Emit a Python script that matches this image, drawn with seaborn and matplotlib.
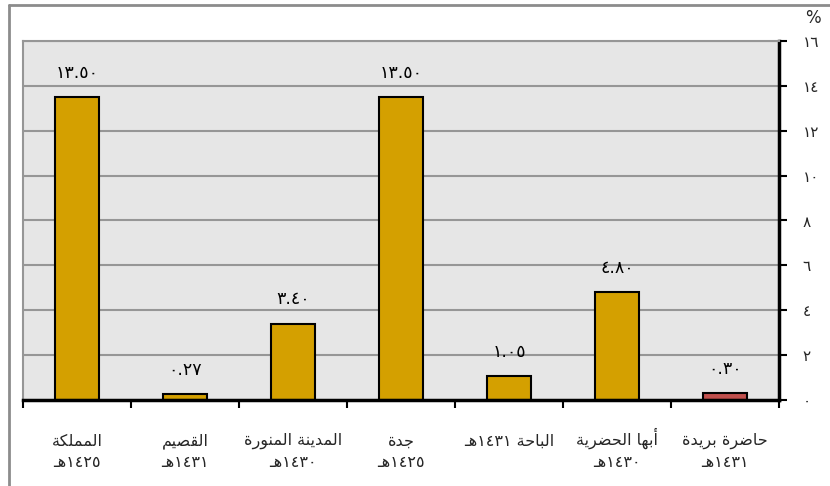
import matplotlib
matplotlib.use('Agg')
import matplotlib.pyplot as plt
import seaborn as sns
import pandas as pd
from matplotlib.lines import Line2D
from matplotlib.ticker import FixedLocator

sns.set_theme(style='white')
plt.rcParams['font.family'] = ['DejaVu Sans']

# Data
regions = ['المملكة\n١٤٢٥هـ', 'القصيم\n١٤٣١هـ', 'المدينة المنورة\n١٤٣٠هـ', 'جدة\n١٤٢٥هـ',
           'الباحة ١٤٣١هـ', 'أبها الحضرية\n١٤٣٠هـ', 'حاضرة بريدة\n١٤٣١هـ']
values = [13.50, 0.27, 3.40, 13.50, 1.05, 4.80, 0.30]
value_labels = ['١٣.٥٠', '٠.٢٧', '٣.٤٠', '١٣.٥٠', '١.٠٥', '٤.٨٠', '٠.٣٠']
bar_colors = ['#D4A000'] * 6 + ['#C0504D']
y_ticks = [0, 2, 4, 6, 8, 10, 12, 14, 16]
y_tick_labels = ['٠', '٢', '٤', '٦', '٨', '١٠', '١٢', '١٤', '١٦']

# matplotlib has no Arabic shaping, so pick presentation forms by hand
FORMS = {
    'ا': ('\uFE8D', '\uFE8E', None, None),
    'أ': ('\uFE83', '\uFE84', None, None),
    'ب': ('\uFE8F', '\uFE90', '\uFE91', '\uFE92'),
    'ة': ('\uFE93', '\uFE94', None, None),
    'ج': ('\uFE9D', '\uFE9E', '\uFE9F', '\uFEA0'),
    'ح': ('\uFEA1', '\uFEA2', '\uFEA3', '\uFEA4'),
    'د': ('\uFEA9', '\uFEAA', None, None),
    'ر': ('\uFEAD', '\uFEAE', None, None),
    'ص': ('\uFEB9', '\uFEBA', '\uFEBB', '\uFEBC'),
    'ض': ('\uFEBD', '\uFEBE', '\uFEBF', '\uFEC0'),
    'ق': ('\uFED5', '\uFED6', '\uFED7', '\uFED8'),
    'ك': ('\uFED9', '\uFEDA', '\uFEDB', '\uFEDC'),
    'ل': ('\uFEDD', '\uFEDE', '\uFEDF', '\uFEE0'),
    'م': ('\uFEE1', '\uFEE2', '\uFEE3', '\uFEE4'),
    'ن': ('\uFEE5', '\uFEE6', '\uFEE7', '\uFEE8'),
    'ه': ('\uFEE9', '\uFEEA', '\uFEEB', '\uFEEC'),
    'و': ('\uFEED', '\uFEEE', None, None),
    'ي': ('\uFEF1', '\uFEF2', '\uFEF3', '\uFEF4'),
    'ـ': ('\u0640', '\u0640', '\u0640', '\u0640'),
}
DIGITS = set('٠١٢٣٤٥٦٧٨٩.')


def shape_line(line):
    out = []
    for i, c in enumerate(line):
        if c not in FORMS:
            out.append(c)
            continue
        f = FORMS[c]
        prev = line[i - 1] if i > 0 else None
        nxt = line[i + 1] if i + 1 < len(line) else None
        jp = prev in FORMS and FORMS[prev][2] is not None
        jn = f[2] is not None and nxt in FORMS
        if jp and jn:
            out.append(f[3])
        elif jp:
            out.append(f[1])
        elif jn:
            out.append(f[2])
        else:
            out.append(f[0])
    out = out[::-1]
    # put digit runs back in left-to-right order
    res, run = [], []
    for c in out:
        if c in DIGITS:
            run.append(c)
        else:
            res.extend(run[::-1])
            run = []
            res.append(c)
    res.extend(run[::-1])
    return ''.join(res)


def shape(text):
    lines = [shape_line(l) for l in text.split('\n')]
    if len(lines) == 1:
        lines.append(' ')  # keep one-line labels on the first row
    return '\n'.join(lines)


df = pd.DataFrame({'region': regions, 'value': values})

fig = plt.figure(figsize=(8.3, 4.86), dpi=100)
ax = fig.add_axes([23 / 830, 1 - 400 / 486, 756 / 830, 359 / 486])
ax.set_facecolor('#E6E6E6')

sns.barplot(data=df, x='region', y='value', hue='region', palette=bar_colors,
            legend=False, width=0.41, edgecolor='black', linewidth=1.5, ax=ax,
            saturation=1)

ax.set_xlim(-0.5, len(regions) - 0.5)
ax.set_ylim(0, 16)
ax.set_xlabel('')
ax.set_ylabel('')

# gridlines
for y in y_ticks[1:]:
    ax.axhline(y, color='#969696', lw=1.5, zorder=0)

# value labels
for i, (v, lab) in enumerate(zip(values, value_labels)):
    ax.annotate(lab, (i, v), xytext=(0, 11), textcoords='offset points',
                ha='center', va='bottom', fontsize=12.5, color='black')

# y axis on the right
ax.yaxis.tick_right()
ax.set_yticks(y_ticks)
ax.set_yticklabels(y_tick_labels, fontsize=11)
ax.tick_params(axis='y', direction='out', length=6, width=1.5, color='black',
               pad=11, right=True, left=False)

# x axis: tick marks between categories, labels at centers
ax.set_xticks(range(len(regions)))
ax.set_xticklabels([shape(r) for r in regions], fontsize=11.5, linespacing=1.5,
                   va='baseline')
ax.xaxis.set_minor_locator(FixedLocator([i - 0.5 for i in range(len(regions) + 1)]))
ax.tick_params(axis='x', which='major', length=0, pad=48)
ax.tick_params(axis='x', which='minor', direction='out', length=6, width=1.5,
               color='black', bottom=True)

for side in ['bottom', 'right']:
    ax.spines[side].set_color('black')
    ax.spines[side].set_linewidth(2.5)
for side in ['top', 'left']:
    ax.spines[side].set_color('#969696')
    ax.spines[side].set_linewidth(1.5)

ax.text(1.045, 1.04, '%', transform=ax.transAxes, fontsize=12, ha='center', va='bottom')

# outer chart frame (left and top edges visible)
fig.add_artist(Line2D([9 / 830, 9 / 830], [0, 1 - 5 / 486], color='#8C8C8C', lw=2))
fig.add_artist(Line2D([9 / 830, 1], [1 - 5 / 486, 1 - 5 / 486], color='#8C8C8C', lw=2))

fig.savefig('out.png', dpi=100, facecolor='white')
plt.close(fig)
